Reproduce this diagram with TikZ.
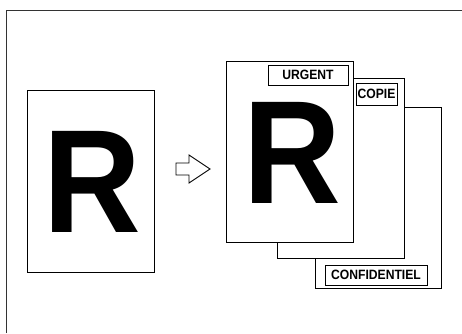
\documentclass[tikz,border=0pt]{standalone}
\usepackage{fontspec}
\setmainfont{Liberation Sans}[BoldFont={Liberation Sans Bold}]
\newfontfamily\heavysans{Liberation Sans Bold}
\newcommand{\tagtext}[1]{\scalebox{0.9}[1]{#1}}

\begin{document}
\begin{tikzpicture}[x=1pt, y=-1pt,
		page/.style={draw, fill=white, line width=0.8pt},
		tag/.style={draw, fill=white, line width=0.8pt, inner sep=0pt, font=\heavysans\fontsize{13.5}{14}\selectfont},
		bigR/.style={anchor=base, inner sep=0pt, xscale=0.92, transform shape, font=\heavysans\fontsize{147}{150}\selectfont}]
		\useasboundingbox (0, 0) rectangle (462, 333);
	
		% frame
		\draw[line width=1pt, black!80] (6, 333) -- (6, 10) -- (462, 10);
		
		% original
		\draw[page] (27, 90) rectangle (154, 272);
		\node[bigR] (origR) at (92, 232) {R};
		
		\draw[line width=0.9pt, line join=miter] (176, 163) -- (189, 163) -- (189, 155) -- (210, 169) -- (189, 183) -- (189, 175) -- (176, 175) -- cycle;
		
		% stamped copies
		\draw[page] (315, 107) rectangle (441, 288);
		\node[tag, minimum width=102, minimum height=20] (confid) at (376, 275) {\tagtext{CONFIDENTIEL}};
		
		\draw[page] (277, 78) rectangle (404, 258);
		\node[tag, minimum width=41, minimum height=22] (copie) at (376.5, 94) {\tagtext{COPIE}};
		
		\draw[page] (226, 61) rectangle (353, 242);
		\node[tag, minimum width=80, minimum height=20] (urgent) at (308, 75) {\tagtext{URGENT}};
		\node[bigR] (copyR) at (292, 203) {R};
	\end{tikzpicture}
\end{document}
